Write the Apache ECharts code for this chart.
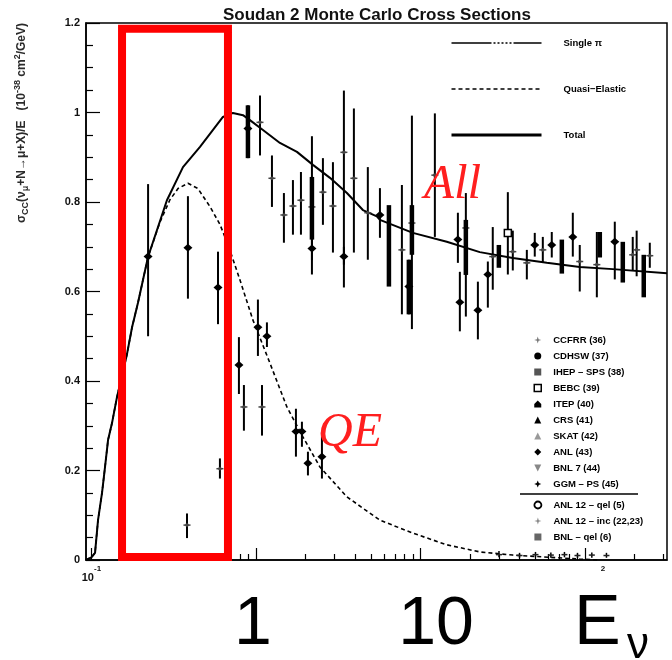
<!DOCTYPE html>
<html>
<head>
<meta charset="utf-8">
<script src="https://cdn.jsdelivr.net/npm/echarts@6/dist/echarts.min.js"></script>
<style>html,body{margin:0;padding:0;background:#fff;}#c{width:672px;height:660px;}</style>
</head>
<body>
<div id="c"></div>
<script>
// ---- data (E in GeV, sigma/E in 1e-38 cm^2/GeV) ----
const totalCurve = [[0.0927,0],[0.1,0.006],[0.1052,0.016],[0.1097,0.089],[0.116,0.150],[0.121,0.208],[0.1262,0.268],[0.1334,0.306],[0.143,0.364],[0.1645,0.46],[0.1766,0.52],[0.1919,0.575],[0.2208,0.677],[0.2877,0.804],[0.3602,0.878],[0.457,0.923],[0.630,0.990],[0.7245,0.999],[0.834,0.994],[0.919,0.983],[1.103,0.961],[1.399,0.932],[1.775,0.912],[2.220,0.883],[2.817,0.854],[3.572,0.820],[4.467,0.782],[5.43,0.768],[5.67,0.760],[8.99,0.731],[14.45,0.711],[22.94,0.688],[36.4,0.675],[58.6,0.664],[92.9,0.655],[147.5,0.650],[315,0.641]];
const qeCurve = [[0.0927,0],[0.1,0.006],[0.1052,0.016],[0.1097,0.089],[0.116,0.150],[0.121,0.208],[0.1262,0.268],[0.1334,0.306],[0.143,0.364],[0.1645,0.46],[0.1766,0.52],[0.1919,0.575],[0.2208,0.677],[0.261,0.755],[0.300,0.805],[0.336,0.830],[0.386,0.842],[0.444,0.830],[0.525,0.790],[0.604,0.750],[0.676,0.705],[0.799,0.626],[0.959,0.536],[1.216,0.440],[1.542,0.342],[1.930,0.275],[2.447,0.208],[3.572,0.141],[5.67,0.089],[8.99,0.060],[14.45,0.034],[22.94,0.018],[36.4,0.011],[92.9,0.002],[120,0.0]];
const singlePiCurve = [];
// points: [E, value, low, high]
const anlPoints = [[0.221,0.678,0.500,0.840],[0.386,0.698,0.584,0.813],[0.588,0.609,0.527,0.689],[0.788,0.436,0.371,0.498],[1.028,0.520,0.456,0.582],[1.166,0.500,0.476,0.531],[1.750,0.287,0.231,0.338],[1.903,0.287,0.253,0.309],[2.070,0.216,0.189,0.242],[2.518,0.231,0.182,0.287],[0.894,0.964,0.898,1.016],[2.189,0.696,0.670,0.720],[3.424,0.678,0.660,0.700],[5.67,0.771,0.720,0.831],[8.50,0.611,0.549,0.671],[16.88,0.716,0.664,0.776],[17.35,0.576,0.511,0.644],[22.33,0.558,0.493,0.622],[25.67,0.638,0.564,0.667],[49.5,0.704,0.678,0.731],[62.8,0.704,0.676,0.733],[84.3,0.722,0.678,0.776],[151.7,0.711,0.627,0.756]];
const ccfrrPoints = [[0.604,0.204,0.182,0.227],[0.381,0.078,0.049,0.104],[0.845,0.342,0.289,0.391],[1.088,0.342,0.278,0.391],[1.058,0.978,0.904,1.038],[1.251,0.853,0.789,0.904],[1.479,0.771,0.709,0.820],[1.678,0.791,0.727,0.849],[1.877,0.804,0.727,0.867],[2.189,0.789,0.638,0.947],[2.553,0.822,0.749,0.898],[2.937,0.791,0.687,0.889],[3.424,0.911,0.609,1.049],[3.938,0.853,0.687,1.009],[4.786,0.776,0.671,0.878],[7.71,0.693,0.549,0.838],[8.87,0.753,0.516,0.993],[12.23,0.860,0.722,0.998],[18.87,0.742,0.544,0.820],[27.5,0.678,0.604,0.744],[36.4,0.689,0.647,0.736],[44.3,0.664,0.627,0.693],[55.4,0.693,0.664,0.722],[92.9,0.667,0.600,0.704],[118,0.660,0.587,0.733],[195,0.682,0.647,0.722],[206,0.693,0.634,0.736],[247.6,0.680,0.653,0.709]];
const cdhswBars = [[0.894,0.964,0.898,1.016],[2.189,0.789,0.716,0.856],[6.43,0.700,0.611,0.793],[8.87,0.753,0.682,0.793],[8.50,0.611,0.549,0.671],[18.87,0.742,0.637,0.760],[29.95,0.678,0.653,0.704],[72.3,0.678,0.640,0.716],[123,0.709,0.676,0.733],[169.7,0.671,0.620,0.711],[227.5,0.644,0.587,0.682]];
const bebcPoints = [[33.96,0.731,0.638,0.822]];
const bnlQelPoints = [[30,0.012,0.006,0.020],[40,0.010,0.005,0.016],[50,0.012,0.006,0.018],[62,0.011,0.005,0.017],[75,0.012,0.006,0.018],[90,0.010,0.005,0.016],[110,0.011,0.005,0.017],[135,0.010,0.005,0.016]];
// axis ticks
const xMajorTicks = [0.1, 1, 10, 100];
const xMinorTicks = [0.2,0.3,0.4,0.5,0.6,0.7,0.8,0.9,2,3,4,5,6,7,8,9,20,30,40,50,60,70,80,90,200,300];
const xLabelTicks = [0.1, 100];
const redBoxE = [0.1535, 0.676];
const redBoxV = [0.0067, 1.187];

const starPath = 'path://M5 0L6.2 3.8L10 5L6.2 6.2L5 10L3.8 6.2L0 5L3.8 3.8Z';
const singlePiDash = [40, 2, 2, 2, 2, 2, 2, 2, 2, 2, 2, 2, 28, 200];

function makeErrRender(kind, barWidth) {
  return function (params, api) {
    const e = api.value(0), v = api.value(1), lo = api.value(2), hi = api.value(3);
    const c = api.coord([e, v]), cl = api.coord([e, lo]), ch = api.coord([e, hi]);
    const ch2 = [{type: 'line', shape: {x1: c[0], y1: cl[1], x2: c[0], y2: ch[1]}, style: {stroke: '#000', lineWidth: barWidth}}];
    if (kind === 'diamond') {
      ch2.push({type: 'polygon', shape: {points: [[c[0]-4.5, c[1]], [c[0], c[1]-4], [c[0]+4.5, c[1]], [c[0], c[1]+4]]}, style: {fill: '#000'}});
    } else if (kind === 'star') {
      ch2.push({type: 'line', shape: {x1: c[0]-3.5, y1: c[1], x2: c[0]+3.5, y2: c[1]}, style: {stroke: '#444', lineWidth: 1.5}});
      ch2.push({type: 'circle', shape: {cx: c[0], cy: c[1], r: 1.8}, style: {fill: '#444'}});
    } else if (kind === 'square') {
      ch2.push({type: 'rect', shape: {x: c[0]-3.5, y: c[1]-3.5, width: 7, height: 7}, style: {fill: '#fff', stroke: '#000', lineWidth: 1.5}});
    } else if (kind === 'tick') {
      ch2.push({type: 'line', shape: {x1: c[0]-3, y1: c[1], x2: c[0]+3, y2: c[1]}, style: {stroke: '#222', lineWidth: 1.5}});
    }
    return {type: 'group', children: ch2};
  };
}
function emptySeries(name) {
  return {type: 'custom', name: name, data: [], renderItem: function () { return null; }};
}

const chart = echarts.init(document.getElementById('c'), null, {renderer: 'canvas'});
const FF = '"Liberation Sans", Arial, sans-serif';
const hiddenSymbol = {opacity: 0, color: 'rgba(0,0,0,0)', borderWidth: 0};
const option = {
  animation: false,
  backgroundColor: '#fff',
  textStyle: {fontFamily: FF},
  title: {text: 'Soudan 2 Monte Carlo Cross Sections', left: 218, top: 2,
    textStyle: {fontSize: 17, fontWeight: 'bold', color: '#111', fontFamily: FF}},
  grid: {left: 86, right: 5, top: 23, bottom: 100, show: true, borderColor: '#000', borderWidth: 1.5, backgroundColor: 'transparent'},
  xAxis: [{
    type: 'log', logBase: 10, min: 0.0927, max: 315, position: 'bottom',
    axisLine: {show: true, lineStyle: {color: '#000', width: 1.5}},
    axisTick: {show: true, inside: true, length: 12, customValues: xMajorTicks, lineStyle: {color: '#000', width: 1.2}},
    splitLine: {show: false}, minorTick: {show: false},
    axisLabel: {
      customValues: xLabelTicks, margin: 5,
      formatter: function (v) {
        if (Math.abs(v - 0.1) < 1e-6) return '{b|10}{s|-1}';
        if (Math.abs(v - 100) < 1e-6) return '{t|2}';
        return '';
      },
      rich: {
        b: {fontSize: 11, fontWeight: 'bold', color: '#111', lineHeight: 18, verticalAlign: 'bottom'},
        s: {fontSize: 8, fontWeight: 'bold', color: '#111', lineHeight: 10, verticalAlign: 'top'},
        t: {fontSize: 8, fontWeight: 'bold', color: '#111', lineHeight: 10, verticalAlign: 'top', padding: [0, 0, 8, 36]}
      }
    }
  }, {
    type: 'log', logBase: 10, min: 0.0927, max: 315, position: 'bottom',
    axisLine: {show: false}, axisLabel: {show: false}, splitLine: {show: false},
    axisTick: {show: true, inside: true, length: 6, customValues: xMinorTicks, lineStyle: {color: '#000', width: 1.2}}
  }],
  yAxis: {
    type: 'value', min: 0, max: 1.2, interval: 0.2,
    axisLine: {show: true, lineStyle: {color: '#000', width: 1.5}},
    axisTick: {show: true, inside: true, length: 14, lineStyle: {color: '#000', width: 1.2}},
    minorTick: {show: true, splitNumber: 4, length: 7, lineStyle: {color: '#000', width: 1.2}},
    splitLine: {show: false}, minorSplitLine: {show: false},
    axisLabel: {margin: 6, fontSize: 11, fontWeight: 'bold', color: '#111'}
  },
  legend: [{
    orient: 'vertical', left: 445, top: 33, itemWidth: 90, itemHeight: 11, itemGap: 36,
    selectedMode: false,
    textStyle: {fontSize: 9.5, fontWeight: 'bold', color: '#000', padding: [0, 0, 0, 17]},
    data: [
      {name: 'Single π', itemStyle: hiddenSymbol, lineStyle: {width: 1.5, type: singlePiDash, color: '#000'}},
      {name: 'Quasi−Elastic', itemStyle: hiddenSymbol, lineStyle: {width: 1.5, type: [4, 3], color: '#000'}},
      {name: 'Total', itemStyle: hiddenSymbol, lineStyle: {width: 3, type: 'solid', color: '#000'}}
    ]
  }, {
    orient: 'vertical', left: 528.5, top: 329.5, itemWidth: 7, itemHeight: 7, itemGap: 5,
    selectedMode: false,
    textStyle: {fontSize: 9.5, fontWeight: 'bold', color: '#000', lineHeight: 11, padding: [0, 0, 0, 7]},
    data: [
      {name: 'CCFRR (36)', icon: starPath, itemStyle: {color: '#777'}},
      {name: 'CDHSW (37)', icon: 'circle', itemStyle: {color: '#000'}},
      {name: 'IHEP – SPS (38)', icon: 'rect', itemStyle: {color: '#555'}},
      {name: 'BEBC (39)', icon: 'rect', itemStyle: {color: '#fff', borderColor: '#000', borderWidth: 1.5}},
      {name: 'ITEP (40)', icon: 'path://M0 10L0 5L5 0L10 5L10 10Z', itemStyle: {color: '#000'}},
      {name: 'CRS (41)', icon: 'triangle', itemStyle: {color: '#000'}},
      {name: 'SKAT (42)', icon: 'triangle', itemStyle: {color: '#999'}},
      {name: 'ANL (43)', icon: 'diamond', itemStyle: {color: '#000'}},
      {name: 'BNL 7 (44)', icon: 'path://M0 0L10 0L5 10Z', itemStyle: {color: '#888'}},
      {name: 'GGM – PS (45)', icon: 'path://M5 0L6.5 3.5L10 5L6.5 6.5L5 10L3.5 6.5L0 5L3.5 3.5Z', itemStyle: {color: '#000'}}
    ]
  }, {
    orient: 'vertical', left: 528.5, top: 494.5, itemWidth: 7, itemHeight: 7, itemGap: 5,
    selectedMode: false,
    textStyle: {fontSize: 9.5, fontWeight: 'bold', color: '#000', lineHeight: 11, padding: [0, 0, 0, 7]},
    data: [
      {name: 'ANL 12 – qel (5)', icon: 'circle', itemStyle: {color: '#fff', borderColor: '#000', borderWidth: 1.8}},
      {name: 'ANL 12 – inc (22,23)', icon: starPath, itemStyle: {color: '#888'}},
      {name: 'BNL – qel (6)', icon: 'rect', itemStyle: {color: '#666'}}
    ]
  }],
  graphic: [
    {type: 'text', x: 22, y: 23, rotation: Math.PI / 2, z: 10,
      style: {text: 'σ{s|CC}(ν{s|μ}+N→μ+X)/E   (10{p|-38} cm{p|2}/GeV)', align: 'right', verticalAlign: 'middle',
        fill: '#2b2b2b', font: 'bold 12px "Liberation Sans"',
        rich: {s: {font: 'bold 9px "Liberation Sans"', fill: '#2b2b2b', verticalAlign: 'bottom', lineHeight: 17},
               p: {font: 'bold 9px "Liberation Sans"', fill: '#2b2b2b', verticalAlign: 'top', lineHeight: 17}}}},
    {type: 'text', x: 424, y: 185, z: 10, style: {text: 'All', font: 'italic 49px "Liberation Serif"', fill: '#ff1f1f', align: 'left', verticalAlign: 'middle'}},
    {type: 'text', x: 318, y: 433, z: 10, style: {text: 'QE', font: 'italic 48px "Liberation Serif"', fill: '#ff1f1f', align: 'left', verticalAlign: 'middle'}},
    {type: 'text', x: 253, y: 625, z: 10, style: {text: '1', font: '68px "Liberation Sans"', fill: '#000', align: 'center', verticalAlign: 'middle'}},
    {type: 'text', x: 436, y: 625, z: 10, style: {text: '10', font: '68px "Liberation Sans"', fill: '#000', align: 'center', verticalAlign: 'middle'}},
    {type: 'text', x: 574, y: 625, z: 10, style: {text: 'E', font: '70px "Liberation Sans"', fill: '#000', align: 'left', verticalAlign: 'middle'}},
    {type: 'text', x: 627, y: 646, z: 10, style: {text: 'ν', font: '44px "Liberation Sans"', fill: '#000', align: 'left', verticalAlign: 'middle'}},
    {type: 'line', z: 10, shape: {x1: 520, y1: 494, x2: 638, y2: 494}, style: {stroke: '#000', lineWidth: 1.5}}
  ],
  series: [
    {type: 'line', name: 'Single π', data: singlePiCurve, symbol: 'none', itemStyle: {color: '#000'}, lineStyle: {color: '#000', width: 1.5, type: singlePiDash}},
    {type: 'line', name: 'Quasi−Elastic', data: qeCurve, symbol: 'none', z: 2, itemStyle: {color: '#000'}, lineStyle: {color: '#000', width: 1.6, type: [4, 3]}},
    {type: 'line', name: 'Total', data: totalCurve, symbol: 'none', z: 2, lineStyle: {color: '#000', width: 2}, itemStyle: {color: '#000'},
      markArea: {silent: true, z: 10,
        itemStyle: {color: 'rgba(0,0,0,0)', borderColor: '#ff0000', borderWidth: 8},
        data: [[{xAxis: redBoxE[0], yAxis: redBoxV[0]}, {xAxis: redBoxE[1], yAxis: redBoxV[1]}]]}},
    {type: 'custom', name: 'CCFRR (36)', data: ccfrrPoints, renderItem: makeErrRender('star', 2), encode: {x: 0, y: 1}, z: 3},
    {type: 'custom', name: 'CDHSW (37)', data: cdhswBars, renderItem: makeErrRender('none', 4.5), encode: {x: 0, y: 1}, z: 4},
    emptySeries('IHEP – SPS (38)'),
    {type: 'custom', name: 'BEBC (39)', data: bebcPoints, renderItem: makeErrRender('square', 2), encode: {x: 0, y: 1}, z: 5},
    emptySeries('ITEP (40)'),
    emptySeries('CRS (41)'),
    emptySeries('SKAT (42)'),
    {type: 'custom', name: 'ANL (43)', data: anlPoints, renderItem: makeErrRender('diamond', 2), encode: {x: 0, y: 1}, z: 5},
    emptySeries('BNL 7 (44)'),
    emptySeries('GGM – PS (45)'),
    emptySeries('ANL 12 – qel (5)'),
    emptySeries('ANL 12 – inc (22,23)'),
    {type: 'custom', name: 'BNL – qel (6)', data: bnlQelPoints, renderItem: makeErrRender('tick', 1.5), encode: {x: 0, y: 1}, z: 4}
  ]
};
chart.setOption(option);
</script>
</body>
</html>
